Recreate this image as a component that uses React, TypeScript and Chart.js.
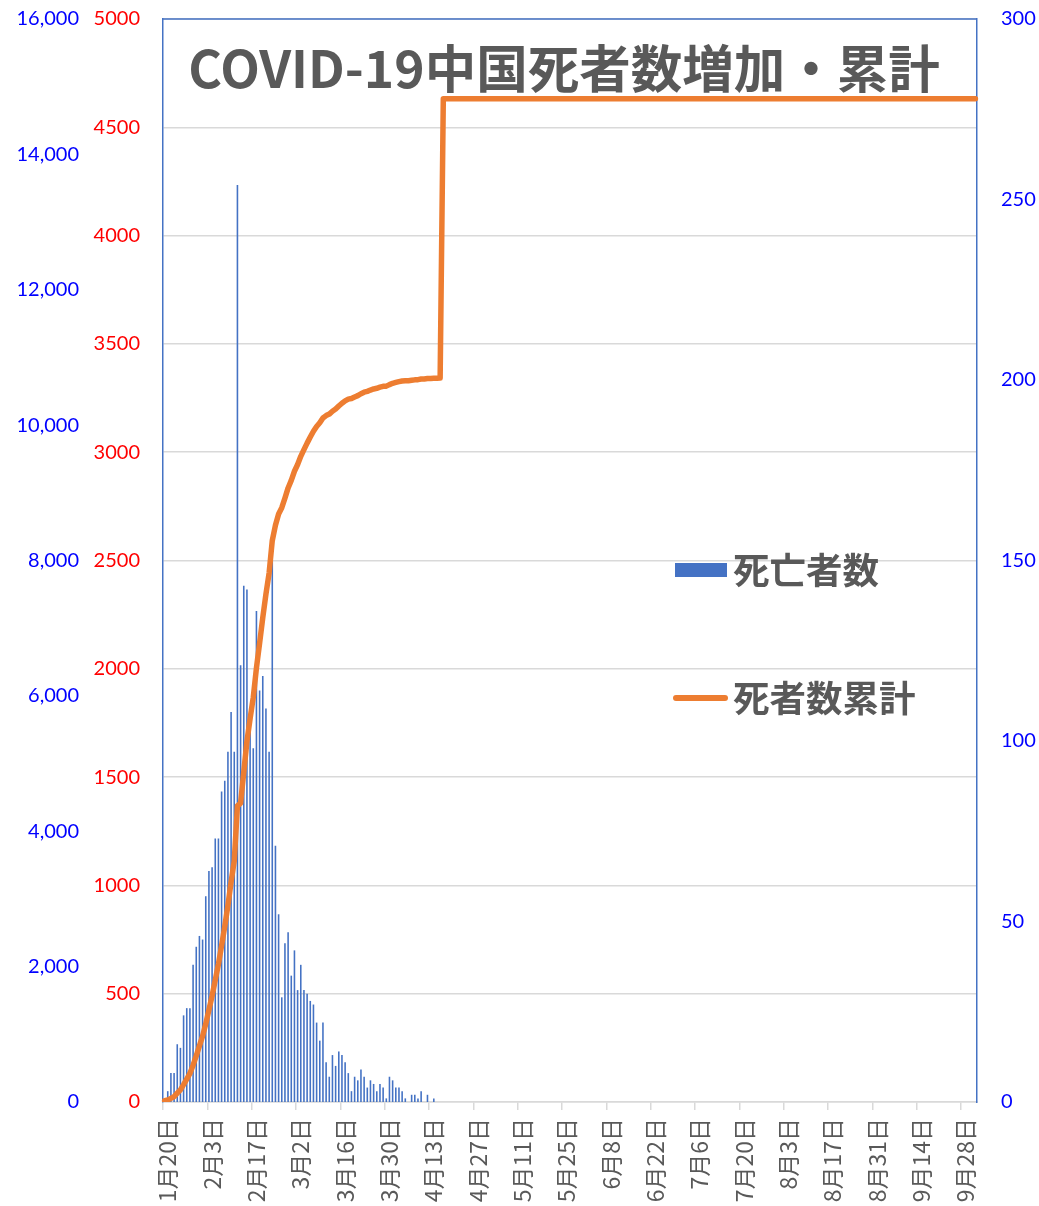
import React, { useEffect, useRef } from 'react';
import { Chart, registerables } from 'chart.js';

Chart.register(...registerables);

// ---- categories: one per day from 1月20日 (2020) ----
const START_DATE = '2020-01-20';
const DAY_COUNT = 257;
const TICK_EVERY = 14;

function buildCategories(): string[] {
  const out: string[] = [];
  const d0 = new Date(START_DATE + 'T00:00:00Z').getTime();
  for (let i = 0; i < DAY_COUNT; i++) {
    const d = new Date(d0 + i * 86400000);
    out.push(`${d.getUTCMonth() + 1}月${d.getUTCDate()}日`);
  }
  return out;
}
const CATEGORIES = buildCategories();

// ---- series: 死亡者数 (daily deaths, right axis), from 1月20日 ----
const DAILY_DEATHS = [
  0, 3, 8, 8, 16, 15, 24, 26, 26, 38, 43, 46, 45, 57, 64, 65, 73, 73, 86, 89,
  97, 108, 97, 254, 121, 143, 142, 105, 98, 136, 114, 118, 109, 97, 150, 71, 52, 29, 44, 47,
  35, 42, 31, 38, 31, 30, 28, 27, 22, 17, 22, 11, 7, 13, 10, 14, 13, 11, 8, 3,
  7, 6, 9, 7, 4, 6, 5, 3, 5, 4, 1, 7, 6, 4, 4, 3, 1, 0, 2, 2,
  1, 3, 0, 2, 0, 1,
];

// ---- series: 死者数累計 (cumulative deaths, red axis), from 1月20日 to 4月17日 ----
const CUMULATIVE_DEATHS = [
  6, 9, 17, 25, 41, 56, 80, 106, 132, 170, 213, 259, 304, 361, 425, 490, 563, 636, 722, 811,
  908, 1016, 1113, 1367, 1380, 1523, 1665, 1770, 1868, 2004, 2118, 2236, 2345, 2442, 2592, 2663, 2715, 2744, 2788, 2835,
  2870, 2912, 2943, 2981, 3012, 3042, 3070, 3097, 3119, 3136, 3158, 3169, 3176, 3189, 3199, 3213, 3226, 3237, 3245, 3248,
  3255, 3261, 3270, 3277, 3281, 3287, 3292, 3295, 3300, 3304, 3305, 3312, 3318, 3322, 3326, 3329, 3330, 3330, 3332, 3334,
  3335, 3338, 3338, 3340, 3340, 3341, 3341, 3342, 4632,
];
// flat after the revision, until the last day
const CUMULATIVE_TAIL_DATES = ['10月2日'];
const CUMULATIVE_TAIL_VALUES = [4632];

// ---- axes ----
const OUTER_LEFT_MAX = 16000;
const OUTER_LEFT_STEP = 2000;
const RED_MAX = 5000;
const RED_STEP = 500;
const RIGHT_MAX = 300;
const RIGHT_STEP = 50;

const TITLE = 'COVID-19中国死者数増加・累計';
const BAR_LABEL = '死亡者数';
const LINE_LABEL = '死者数累計';

const BLUE = '#4472C4';
const ORANGE = '#ED7D31';
const GRAY_TEXT = '#595959';
const GRID = '#d9d9d9';

const topBorderPlugin = {
  id: 'topBorder',
  beforeDatasetsDraw(chart: any) {
    const { ctx, chartArea } = chart;
    ctx.save();
    ctx.strokeStyle = BLUE;
    ctx.lineWidth = 1.5;
    ctx.beginPath();
    ctx.moveTo(chartArea.left, chartArea.top);
    ctx.lineTo(chartArea.right, chartArea.top);
    ctx.stroke();
    ctx.restore();
  },
};

const fitY = (width: number) => (s: any) => {
  s.width = width;
  s.paddingTop = 0;
  s.paddingBottom = 0;
};

export default function App() {
  const canvasRef = useRef<HTMLCanvasElement | null>(null);

  useEffect(() => {
    const canvas = canvasRef.current;
    if (!canvas) return;
    const tickFont = { family: 'Lato, "Liberation Sans", sans-serif', size: 20 };

    const lineData: any[] = CUMULATIVE_DEATHS.map((v, i) => ({ x: CATEGORIES[i], y: v }));
    CUMULATIVE_TAIL_DATES.forEach((d, i) => lineData.push({ x: d, y: CUMULATIVE_TAIL_VALUES[i] }));

    const chart = new Chart(canvas, {
      type: 'bar',
      data: {
        labels: CATEGORIES,
        datasets: [
          {
            type: 'line',
            label: LINE_LABEL,
            data: lineData,
            yAxisID: 'yRed',
            borderColor: ORANGE,
            backgroundColor: ORANGE,
            borderWidth: 5.5,
            pointRadius: 0,
            tension: 0,
            borderJoinStyle: 'round',
            borderCapStyle: 'round',
            order: 0,
          } as any,
          {
            type: 'bar',
            label: BAR_LABEL,
            data: DAILY_DEATHS,
            yAxisID: 'y',
            backgroundColor: BLUE,
            barPercentage: 0.5,
            categoryPercentage: 1.0,
            order: 1,
          } as any,
        ],
      },
      options: {
        responsive: false,
        animation: false,
        devicePixelRatio: 1,
        layout: { padding: { top: 19, left: 0, right: 0, bottom: 0 } },
        plugins: {
          legend: { display: false },
          title: { display: false },
          tooltip: { enabled: false },
        },
        scales: {
          x: {
            type: 'category',
            offset: true,
            grid: {
              offset: true,
              drawOnChartArea: false,
              drawTicks: true,
              tickLength: 8,
              lineWidth: 1.5,
              color: (c: any) => (c.index % TICK_EVERY === 0 ? GRID : 'rgba(0,0,0,0)'),
              tickColor: (c: any) => (c.index % TICK_EVERY === 0 ? GRID : 'rgba(0,0,0,0)'),
            },
            border: { color: GRID, width: 1.5 },
            ticks: {
              autoSkip: false,
              maxRotation: 90,
              minRotation: 90,
              padding: 8,
              labelOffset: 3,
              color: GRAY_TEXT,
              font: { family: '"Noto Sans CJK JP", sans-serif', size: 23 },
              callback: (_v: any, i: number) => (i % TICK_EVERY === 0 ? CATEGORIES[i] : ''),
            },
            afterFit: (s: any) => {
              s.height = 104;
            },
          } as any,
          yOuter: {
            position: 'left',
            weight: 2,
            min: 0,
            max: OUTER_LEFT_MAX,
            ticks: {
              stepSize: OUTER_LEFT_STEP,
              color: '#0000FF',
              padding: 14,
              font: tickFont,
              callback: (v: any) => Number(v).toLocaleString('en-US'),
            },
            grid: { display: false, drawTicks: false },
            border: { display: false },
            afterFit: fitY(93),
          } as any,
          yRed: {
            position: 'left',
            weight: 1,
            min: 0,
            max: RED_MAX,
            ticks: {
              stepSize: RED_STEP,
              color: '#FF0000',
              padding: 23,
              font: tickFont,
              callback: (v: any) => String(v),
            },
            grid: { color: GRID, lineWidth: 1.5, drawTicks: false },
            border: { color: BLUE, width: 1.5 },
            afterFit: fitY(70),
          } as any,
          y: {
            position: 'right',
            min: 0,
            max: RIGHT_MAX,
            ticks: {
              stepSize: RIGHT_STEP,
              color: '#0000FF',
              padding: 24,
              font: tickFont,
            },
            grid: { display: false, drawTicks: false },
            border: { color: BLUE, width: 1.5 },
            afterFit: fitY(62),
          } as any,
        },
      } as any,
      plugins: [topBorderPlugin],
    });

    const fonts: any = (document as any).fonts;
    if (fonts && fonts.ready) {
      fonts.ready.then(() => {
        try {
          chart.update();
        } catch (e) {
          /* ignore */
        }
      });
    }
    return () => chart.destroy();
  }, []);

  return (
    <div
      style={{
        position: 'absolute',
        left: 0,
        top: 0,
        width: 1039,
        height: 1206,
        overflow: 'hidden',
        background: '#ffffff',
      }}
    >
      <canvas
        ref={canvasRef}
        width={1039}
        height={1206}
        style={{ position: 'absolute', left: 0, top: 0, width: 1039, height: 1206, display: 'block' }}
      />
      <div
        style={{
          position: 'absolute',
          left: 564,
          top: 39,
          transform: 'translateX(-50%)',
          whiteSpace: 'nowrap',
          fontFamily: '"Noto Sans CJK JP", sans-serif',
          fontWeight: 700,
          fontSize: 51.5,
          lineHeight: '54px',
          color: GRAY_TEXT,
        }}
      >
        {TITLE}
      </div>
      <div
        style={{ position: 'absolute', left: 675, top: 563, width: 52, height: 14, background: BLUE }}
      />
      <div
        style={{
          position: 'absolute',
          left: 733,
          top: 550,
          whiteSpace: 'nowrap',
          fontFamily: '"Noto Sans CJK JP", sans-serif',
          fontWeight: 700,
          fontSize: 36.5,
          lineHeight: '38px',
          color: GRAY_TEXT,
        }}
      >
        {BAR_LABEL}
      </div>
      <div
        style={{
          position: 'absolute',
          left: 673,
          top: 695,
          width: 55,
          height: 6,
          borderRadius: 3,
          background: ORANGE,
        }}
      />
      <div
        style={{
          position: 'absolute',
          left: 733,
          top: 678,
          whiteSpace: 'nowrap',
          fontFamily: '"Noto Sans CJK JP", sans-serif',
          fontWeight: 700,
          fontSize: 36.5,
          lineHeight: '38px',
          color: GRAY_TEXT,
        }}
      >
        {LINE_LABEL}
      </div>
    </div>
  );
}
